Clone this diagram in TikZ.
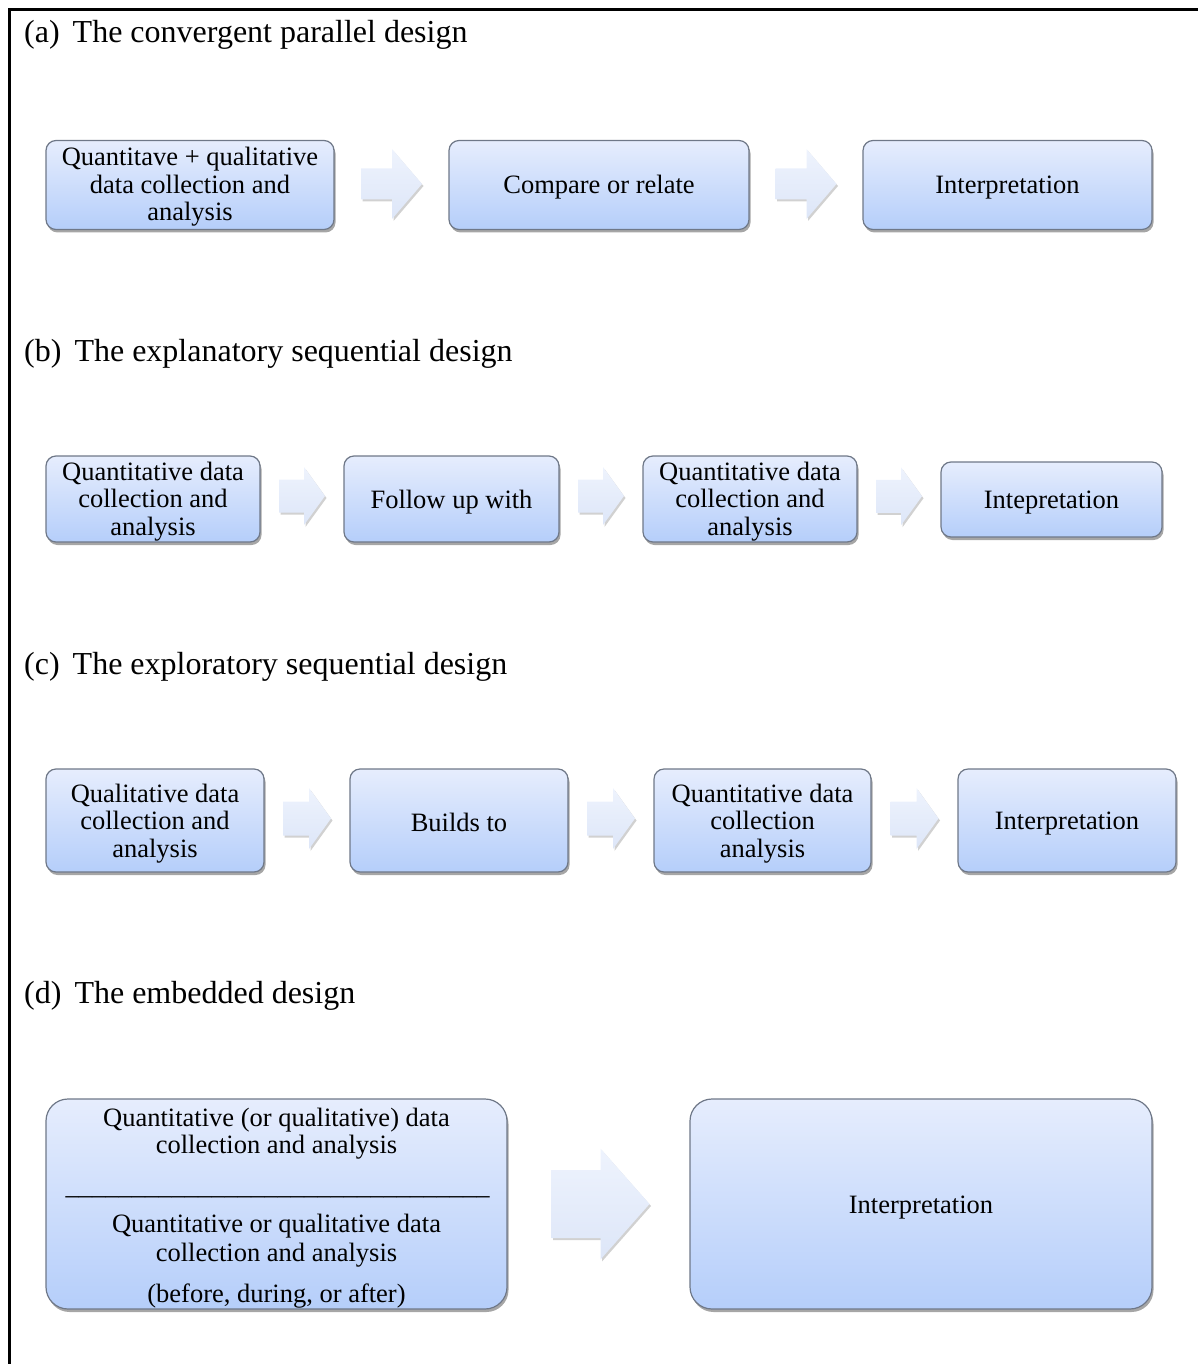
\documentclass[tikz,border=0pt]{standalone}
\usepackage{fontspec}
\setmainfont{Liberation Serif}
\usetikzlibrary{shadows,calc}
\definecolor{boxtop}{HTML}{E6EDFD}
\definecolor{boxbot}{HTML}{B5CEFA}
\definecolor{boxline}{HTML}{6F7888}
\definecolor{arrtop}{HTML}{EEF3FD}
\definecolor{arrbot}{HTML}{DDE6F8}
\newcommand\boxfont{\fontsize{26.5}{27.5}\selectfont}
\newcommand\headfont{\fontsize{32}{38}\selectfont}
\newcommand\blockarr[5]{%
  \path[barrow] (#1) ++({-#2/2},{-#4/2}) -- ++({#2-#3},0) -- ++(0,{-(#5-#4)/2})
    -- ++(#3,{#5/2}) -- ++({-#3},{#5/2}) -- ++(0,{-(#5-#4)/2}) -- ++({-(#2-#3)},0) -- cycle;}
\begin{document}
\begin{tikzpicture}[x=1pt,y=-1pt,
  box/.style={draw=boxline, line width=1.2pt, rounded corners=10pt,
    top color=boxtop, bottom color=boxbot,
    drop shadow={shadow xshift=1.5pt, shadow yshift=-3pt, opacity=0.35, fill=black},
    inner sep=0pt},
  bigbox/.style={box, rounded corners=22pt},
  head/.style={anchor=west, inner sep=0pt, font=\headfont},
  txt/.style={align=center, inner sep=0pt, font=\boxfont},
  barrow/.style={top color=arrtop, bottom color=arrbot,
    drop shadow={shadow xshift=1.5pt, shadow yshift=-2pt, opacity=0.18, fill=black}}
]
\useasboundingbox (0,0) rectangle (1198,1364);
% frame
\draw[line width=3pt] (9,1364) -- (9,10) -- (1198,10);

% (a)
\node[head] (ha) at (24,35) {(a)\hspace{13pt}The convergent parallel design};
\node[box, minimum width=288pt, minimum height=89pt] (a1) at (190,185) {};
\node[box, minimum width=300pt, minimum height=89pt] (a2) at (599,185) {};
\node[box, minimum width=289pt, minimum height=89pt] (a3) at (1007.5,185) {};
\node[txt] (a1t) at ($(a1)+(0,2)$) {Quantitave + qualitative\\data collection and\\analysis};
\node[txt] (a2t) at ($(a2)+(0,2)$) {Compare or relate};
\node[txt] (a3t) at ($(a3)+(0,2.5)$) {Interpretation};
\coordinate (a12) at ($(a1.east)!0.5!(a2.west)+(0,-1)$);
\coordinate (a23) at ($(a2.east)!0.5!(a3.west)+(0,-1)$);
\blockarr{a12}{61}{30}{31}{70}
\blockarr{a23}{61}{30}{31}{70}

% (b)
\node[head] (hb) at (24,354) {(b)\hspace{13pt}The explanatory sequential design};
\node[box, minimum width=214pt, minimum height=86pt] (b1) at (153,499) {};
\node[box, minimum width=215pt, minimum height=86pt] (b2) at (451.5,499) {};
\node[box, minimum width=214pt, minimum height=86pt] (b3) at (750,499) {};
\node[box, minimum width=221pt, minimum height=75pt] (b4) at (1051.5,499.5) {};
\node[txt] (b1t) at ($(b1)+(0,2.5)$) {Quantitative data\\collection and\\analysis};
\node[txt] (b2t) at ($(b2)+(0,3)$) {Follow up with};
\node[txt] (b3t) at ($(b3)+(0,2.5)$) {Quantitative data\\collection and\\analysis};
\node[txt] (b4t) at ($(b4)+(0,3)$) {Intepretation};
\coordinate (b12) at ($(b1.east)!0.5!(b2.west)+(0,-3)$);
\coordinate (b23) at ($(b2.east)!0.5!(b3.west)+(0,-3)$);
\coordinate (b34) at ($(b3.east)!0.5!(b4.west)+(0,-3)$);
\blockarr{b12}{46}{21}{33}{58}
\blockarr{b23}{46}{21}{33}{58}
\blockarr{b34}{46}{21}{33}{58}

% (c)
\node[head] (hc) at (24,667) {(c)\hspace{13pt}The exploratory sequential design};
\node[box, minimum width=218pt, minimum height=103pt] (c1) at (155,820.5) {};
\node[box, minimum width=218pt, minimum height=103pt] (c2) at (459,820.5) {};
\node[box, minimum width=217pt, minimum height=103pt] (c3) at (762.5,820.5) {};
\node[box, minimum width=218pt, minimum height=103pt] (c4) at (1067,820.5) {};
\node[txt] (c1t) at ($(c1)+(0,3)$) {Qualitative data\\collection and\\analysis};
\node[txt] (c2t) at ($(c2)+(0,2)$) {Builds to};
\node[txt] (c3t) at ($(c3)+(0,3)$) {Quantitative data\\collection\\analysis};
\node[txt] (c4t) at ($(c4)+(0,3)$) {Interpretation};
\coordinate (c12) at ($(c1.east)!0.5!(c2.west)+(0,-2)$);
\coordinate (c23) at ($(c2.east)!0.5!(c3.west)+(0,-2)$);
\coordinate (c34) at ($(c3.east)!0.5!(c4.west)+(0,-2)$);
\blockarr{c12}{48}{22}{34}{61}
\blockarr{c23}{48}{22}{34}{61}
\blockarr{c34}{48}{22}{34}{61}

% (d)
\node[head] (hd) at (24,996) {(d)\hspace{13pt}The embedded design};
\node[bigbox, minimum width=461pt, minimum height=210pt] (d1) at (276.5,1204) {};
\node[bigbox, minimum width=462pt, minimum height=210pt] (d2) at (921,1204) {};
\node[txt] (d2t) at ($(d2)+(0,4)$) {Interpretation};
\node[txt] (dt1) at (276.5,1133.5) {Quantitative (or qualitative) data\\collection and analysis};
\node[txt, anchor=base] (drule) at (277.5,1194) {\_\_\_\_\_\_\_\_\_\_\_\_\_\_\_\_\_\_\_\_\_\_\_\_\_\_\_\_\_\_\_\_};
\node[txt, font=\fontsize{26.5}{29}\selectfont] (dt2) at (276.5,1241) {Quantitative or qualitative data\\collection and analysis};
\node[txt] (dt3) at (276.5,1296) {(before, during, or after)};
\coordinate (d12) at ($(d1.east)!0.5!(d2.west)+(2,0)$);
\blockarr{d12}{98}{49}{68}{111}
\end{tikzpicture}
\end{document}
